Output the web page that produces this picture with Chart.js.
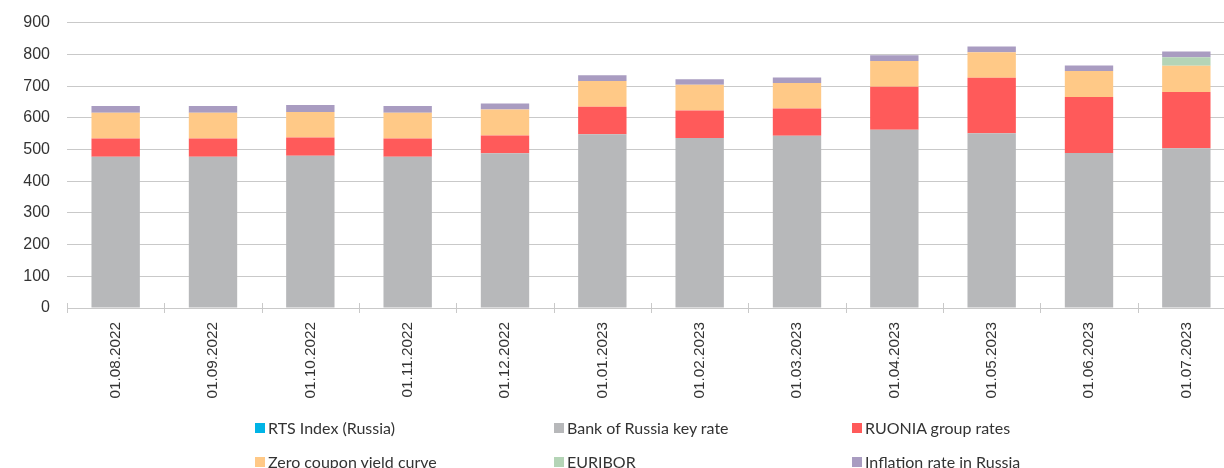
<!DOCTYPE html>
<html>
<head>
<meta charset="utf-8">
<script src="https://cdn.jsdelivr.net/npm/chart.js@4.4.1/dist/chart.umd.min.js"></script>
<style>
  html, body { margin: 0; padding: 0; background: #fff; overflow: hidden; width: 1224px; height: 468px; }
  #wrap { position: absolute; left: 0; top: 0; width: 1235px; height: 468px; }
  #legend { position: absolute; left: 0; top: 0; width: 1224px; height: 468px; pointer-events: none;
            font-family: Lato, "Noto Sans", sans-serif; font-size: 16px; color: #333; }
  .item { position: absolute; display: flex; align-items: center; white-space: nowrap; height: 20px; line-height: 20px; }
  .sw { width: 10px; height: 10px; margin-right: 3px; flex: none; }
</style>
</head>
<body>
<div id="wrap"><canvas id="c" width="1235" height="468"></canvas></div>
<div id="legend"></div>
<script>
// Monthly observation dates
const categories = ['01.08.2022', '01.09.2022', '01.10.2022', '01.11.2022', '01.12.2022', '01.01.2023',
                    '01.02.2023', '01.03.2023', '01.04.2023', '01.05.2023', '01.06.2023', '01.07.2023'];

// Stacked components, bottom to top
const rtsIndex   = [null, null, null, null, null, null, null, null, null, null, null, null];
const keyRate    = [477, 477, 480, 477, 488, 548, 536, 543, 562, 551, 489, 504];
const ruonia     = [58, 58, 58, 58, 56, 87, 87, 86, 136, 175, 177, 177];
const zeroCoupon = [81, 81, 80, 81, 82, 81, 81, 81, 81, 81, 82, 83];
const euribor    = [null, null, null, null, null, null, null, null, null, null, null, 27];
const inflation  = [21, 21, 22, 21, 19, 18, 18, 17, 18, 18, 17, 18];

const yTicks = [0, 100, 200, 300, 400, 500, 600, 700, 800, 900];

const seriesNames = ['RTS Index (Russia)', 'Bank of Russia key rate', 'RUONIA group rates',
                     'Zero coupon yield curve', 'EURIBOR', 'Inflation rate in Russia'];
const seriesColors = ['#00B4E6', '#B7B8BA', '#FF5A5A', '#FFC987', '#B4D4B6', '#A99CC1'];
const seriesData = [rtsIndex, keyRate, ruonia, zeroCoupon, euribor, inflation];

const axisGrey = '#c9c9c9';
const yFont = { family: '"Liberation Sans", Arial, sans-serif', size: 16 };
const xFont = { family: '"Liberation Sans", Arial, sans-serif', size: 15.3 };

// Short tick marks that cross the category axis at each category boundary
const crossTicks = {
  id: 'crossTicks',
  afterDatasetsDraw(chart) {
    const { ctx, scales: { x }, chartArea } = chart;
    ctx.save();
    ctx.strokeStyle = axisGrey;
    ctx.lineWidth = 1;
    for (let i = 0; i <= categories.length; i++) {
      const px = Math.round(x.getPixelForValue(i - 0.5)) + 0.5;
      ctx.beginPath();
      ctx.moveTo(px, chartArea.bottom - 5);
      ctx.lineTo(px, chartArea.bottom + 5);
      ctx.stroke();
    }
    ctx.restore();
  }
};

const chart = new Chart(document.getElementById('c'), {
  type: 'bar',
  data: {
    labels: categories,
    datasets: seriesNames.map((name, i) => ({
      label: name,
      data: seriesData[i],
      backgroundColor: seriesColors[i],
      borderWidth: 0,
      barPercentage: 0.497,
      categoryPercentage: 1.0
    }))
  },
  options: {
    responsive: false,
    animation: false,
    events: [],
    layout: { padding: { top: 22.7, bottom: 60, left: 0, right: 0 } },
    plugins: { legend: { display: false }, tooltip: { enabled: false } },
    scales: {
      x: {
        stacked: true,
        offset: true,
        grid: { display: true, drawOnChartArea: false, color: 'rgba(0,0,0,0)', tickLength: 5, offset: true },
        border: { display: true, color: axisGrey, width: 1 },
        ticks: { color: '#333', font: xFont, maxRotation: 90, minRotation: 90, padding: 9, autoSkip: false },
        afterFit(scale) {
          scale.height = 100;
          scale.paddingLeft = 0; scale.paddingRight = 0; scale.paddingTop = 0; scale.paddingBottom = 0;
        }
      },
      y: {
        stacked: true,
        min: 0,
        max: 900,
        afterBuildTicks(scale) { scale.ticks = yTicks.map(v => ({ value: v })); },
        grid: { color: axisGrey, lineWidth: 1, drawTicks: false },
        border: { display: false },
        ticks: { color: '#333', font: yFont, padding: 17 },
        afterFit(scale) {
          scale.width = 67;
          scale.paddingLeft = 0; scale.paddingRight = 0; scale.paddingTop = 0; scale.paddingBottom = 0;
        }
      }
    }
  },
  plugins: [crossTicks]
});

// Three-column legend built from the chart's datasets
const legendEl = document.getElementById('legend');
const colLeft = [255, 554, 852];
const rowMid = [428, 461.5];
chart.data.datasets.forEach((ds, i) => {
  const item = document.createElement('div');
  item.className = 'item';
  item.style.left = colLeft[i % 3] + 'px';
  item.style.top = (rowMid[Math.floor(i / 3)] - 10) + 'px';
  const sw = document.createElement('span');
  sw.className = 'sw';
  sw.style.background = ds.backgroundColor;
  const tx = document.createElement('span');
  tx.textContent = ds.label;
  item.appendChild(sw);
  item.appendChild(tx);
  legendEl.appendChild(item);
});
</script>
</body>
</html>
